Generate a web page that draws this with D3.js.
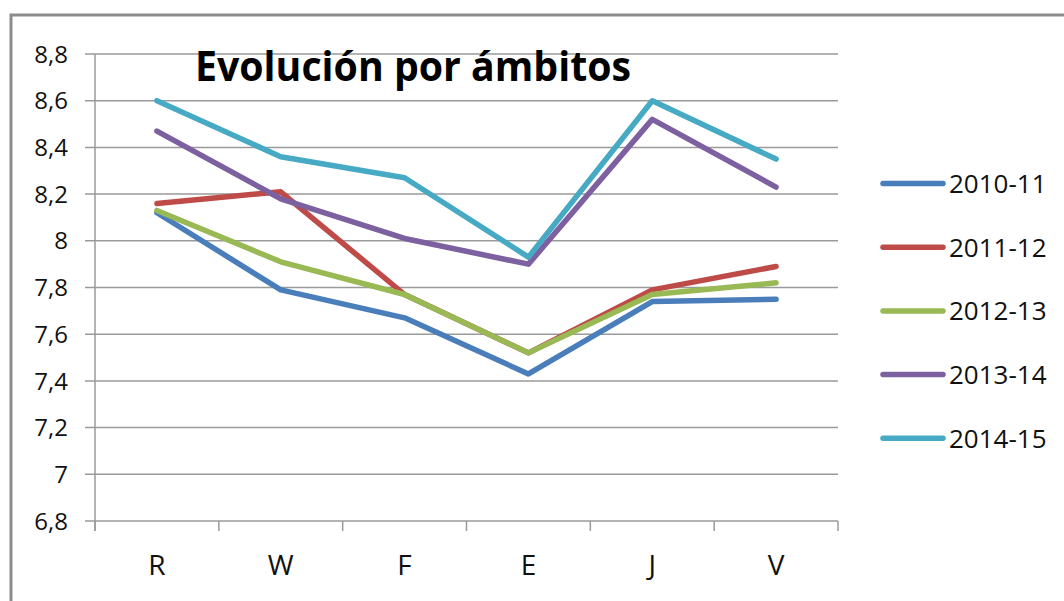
<!DOCTYPE html>
<html>
<head>
<meta charset="utf-8">
<script src="https://cdn.jsdelivr.net/npm/d3@7"></script>
<style>
  body { margin: 0; background: #fff; }
  svg { display: block; }
</style>
</head>
<body>
<script>
// Categories and tick values
var categories = ["R", "W", "F", "E", "J", "V"];
var yTicks = [6.8, 7, 7.2, 7.4, 7.6, 7.8, 8, 8.2, 8.4, 8.6, 8.8];

// One array per school year
var s2010 = [8.12, 7.79, 7.67, 7.43, 7.74, 7.75];
var s2011 = [8.16, 8.21, 7.77, 7.52, 7.79, 7.89];
var s2012 = [8.13, 7.91, 7.77, 7.52, 7.77, 7.82];
var s2013 = [8.47, 8.18, 8.01, 7.90, 8.52, 8.23];
var s2014 = [8.60, 8.36, 8.27, 7.93, 8.60, 8.35];

var seriesNames = ["2010-11", "2011-12", "2012-13", "2013-14", "2014-15"];
var seriesValues = [s2010, s2011, s2012, s2013, s2014];
var colors = ["#4a7ebb", "#be4b48", "#98b954", "#7d60a0", "#46aac5"];

var W = 1064, H = 601;
var margin = {top: 54, left: 95, right: 1064 - 838, bottom: 601 - 521};

var svg = d3.select("body").append("svg")
    .attr("width", W)
    .attr("height", H);

// outer frame
svg.append("rect")
    .attr("x", 11).attr("y", 15)
    .attr("width", 1100).attr("height", 700)
    .attr("fill", "none")
    .attr("stroke", "#8c8c8c")
    .attr("stroke-width", 3);

var x = d3.scaleBand()
    .domain(categories)
    .range([margin.left, W - margin.right]);

var y = d3.scaleLinear()
    .domain([6.8, 8.8])
    .range([H - margin.bottom, margin.top]);

var fmt = function(d) { return d3.format("~g")(d).replace(".", ","); };

// grid lines + y ticks
svg.append("g")
    .selectAll("line")
    .data(yTicks)
    .enter().append("line")
    .attr("x1", margin.left - 10)
    .attr("x2", W - margin.right)
    .attr("y1", function(d) { return y(d); })
    .attr("y2", function(d) { return y(d); })
    .attr("stroke", "#9a9a9a")
    .attr("stroke-width", 1.5);

svg.append("g")
    .selectAll("text")
    .data(yTicks)
    .enter().append("text")
    .attr("x", 68)
    .attr("y", function(d) { return y(d); })
    .attr("dy", "0.36em")
    .attr("text-anchor", "end")
    .style("font-family", "'Open Sans', sans-serif")
    .style("font-size", "24px")
    .attr("fill", "#111")
    .text(fmt);

// y axis line
svg.append("line")
    .attr("x1", margin.left).attr("x2", margin.left)
    .attr("y1", margin.top).attr("y2", H - margin.bottom + 10)
    .attr("stroke", "#9a9a9a")
    .attr("stroke-width", 1.5);

// x tick marks at band edges
var edges = categories.map(function(c) { return x(c); }).concat([x.range()[1]]);
svg.append("g")
    .selectAll("line")
    .data(edges)
    .enter().append("line")
    .attr("x1", function(d) { return d; })
    .attr("x2", function(d) { return d; })
    .attr("y1", H - margin.bottom)
    .attr("y2", H - margin.bottom + 10)
    .attr("stroke", "#9a9a9a")
    .attr("stroke-width", 1.5);

svg.append("g")
    .selectAll("text")
    .data(categories)
    .enter().append("text")
    .attr("x", function(d) { return x(d) + x.bandwidth() / 2; })
    .attr("y", 575)
    .attr("text-anchor", "middle")
    .style("font-family", "'Open Sans', sans-serif")
    .style("font-size", "28px")
    .attr("fill", "#111")
    .text(function(d) { return d; });

// title (squeezed to match the narrow original face)
svg.append("text")
    .attr("x", 195)
    .attr("y", 81)
    .attr("textLength", 436)
    .attr("lengthAdjust", "spacingAndGlyphs")
    .style("font-family", "'Open Sans', sans-serif")
    .style("font-weight", "bold")
    .style("font-size", "42px")
    .attr("fill", "#000")
    .text("Evolución por ámbitos");

// series lines
var line = d3.line()
    .x(function(d, i) { return x(categories[i]) + x.bandwidth() / 2; })
    .y(function(d) { return y(d); });

svg.append("g")
    .selectAll("path")
    .data(seriesValues)
    .enter().append("path")
    .attr("d", line)
    .attr("fill", "none")
    .attr("stroke", function(d, i) { return colors[i]; })
    .attr("stroke-width", 5.5)
    .attr("stroke-linejoin", "round")
    .attr("stroke-linecap", "round");

// legend
var legend = svg.append("g")
    .selectAll("g")
    .data(seriesNames)
    .enter().append("g")
    .attr("transform", function(d, i) { return "translate(0," + (183.5 + i * 63.7) + ")"; });

legend.append("line")
    .attr("x1", 883).attr("x2", 943)
    .attr("stroke", function(d, i) { return colors[i]; })
    .attr("stroke-width", 5.5)
    .attr("stroke-linecap", "round");

legend.append("text")
    .attr("x", 949)
    .attr("dy", "0.36em")
    .style("font-family", "'Open Sans', sans-serif")
    .style("font-size", "26px")
    .attr("fill", "#111")
    .text(function(d) { return d; });
</script>
</body>
</html>
